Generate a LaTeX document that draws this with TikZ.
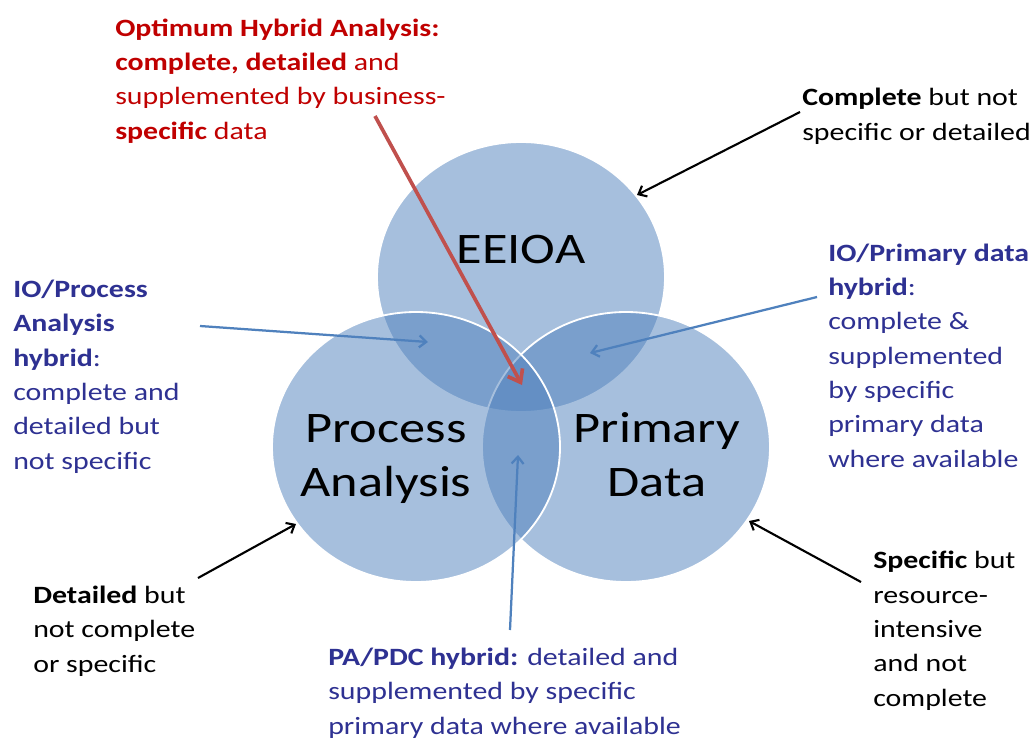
\documentclass[tikz,border=0pt]{standalone}
\usepackage{fontspec}
\setmainfont{Carlito}[FakeStretch=1.2]
\usetikzlibrary{arrows.meta,positioning}

\definecolor{vennblue}{RGB}{79,129,189}
\definecolor{hybridtext}{RGB}{46,49,146}
\definecolor{optimumtext}{RGB}{192,0,0}
\definecolor{optimumline}{RGB}{192,80,77}

\begin{document}
\begin{tikzpicture}[x=0.025cm, y=-0.025cm, >={Straight Barb[length=5pt, width=8.5pt]}, align=left,
  venn/.style={fill=vennblue, fill opacity=0.5, draw=white, draw opacity=1, line width=1.3pt},
  bigname/.style={align=center, anchor=base, inner sep=0pt, font=\fontsize{31}{38}\selectfont},
  note/.style={anchor=base west, inner sep=0pt, font=\fontsize{17.7}{24.4}\selectfont},
  basicarrow/.style={->, black, line width=1.5pt},
  hybridarrow/.style={->, vennblue, line width=1.6pt},
  optimumarrow/.style={-{Straight Barb[length=8pt, width=12pt]}, optimumline, line width=2.6pt}]
  \useasboundingbox[fill=white] (0,0) rectangle (1034,738);

  % the three sets
  \draw[venn] (521,277) ellipse [x radius=144, y radius=135];
  \draw[venn] (626,447) ellipse [x radius=144, y radius=135];
  \draw[venn] (416,447) ellipse [x radius=144, y radius=135];

  % names, placed at the baseline of their last line
  \node[bigname] (eeioa)   at (521,263) {EEIOA};
  \node[bigname] (process) at (386,496) {Process\\Analysis};
  \node[bigname] (primary) at (657,496) {Primary\\Data};

  % labels round the diagram
  \node[note, optimumtext] (optimum) at (115,139)
    {\textbf{Optimum Hybrid Analysis:}\\\textbf{complete, detailed} and\\supplemented by business-\\\textbf{specific} data};
  \node[note] (complete) at (802,140)
    {\textbf{Complete} but not\\specific or detailed};
  \node[note, hybridtext] (ioprimary) at (828,467)
    {\textbf{IO/Primary data}\\\textbf{hybrid}:\\complete \&\\supplemented\\by specific\\primary data\\where available};
  \node[note, hybridtext] (ioprocess) at (13,469)
    {\textbf{IO/Process}\\\textbf{Analysis}\\\textbf{hybrid}:\\complete and\\detailed but\\not specific};
  \node[note] (detailed) at (33,672)
    {\textbf{Detailed} but\\not complete\\or specific};
  \node[note] (specific) at (873,706)
    {\textbf{Specific} but\\resource-\\intensive\\and not\\complete};
  \node[note, hybridtext] (papdc) at (328,734)
    {\textbf{PA/PDC hybrid:} detailed and\\supplemented by specific\\primary data where available};

  % arrow ends
  \coordinate (optimumfrom)   at (375,116);
  \coordinate (optimumto)     at (522,385);
  \coordinate (completefrom)  at (800,112);
  \coordinate (completeto)    at (637,195);
  \coordinate (ioprimaryfrom) at (817,297);
  \coordinate (ioprimaryto)   at (590,353);
  \coordinate (ioprocessfrom) at (200,326);
  \coordinate (ioprocessto)   at (428,342);
  \coordinate (papdcfrom)     at (510,630);
  \coordinate (papdcto)       at (518,455);
  \coordinate (detailedfrom)  at (198,578);
  \coordinate (detailedto)    at (296,524);
  \coordinate (specificfrom)  at (861,582);
  \coordinate (specificto)    at (749,521);

  \draw[basicarrow]   (completefrom)  -- (completeto);
  \draw[basicarrow]   (detailedfrom)  -- (detailedto);
  \draw[basicarrow]   (specificfrom)  -- (specificto);
  \draw[hybridarrow]  (ioprimaryfrom) -- (ioprimaryto);
  \draw[hybridarrow]  (ioprocessfrom) -- (ioprocessto);
  \draw[hybridarrow]  (papdcfrom)     -- (papdcto);
  \draw[optimumarrow] (optimumfrom)   -- (optimumto);
\end{tikzpicture}
\end{document}
